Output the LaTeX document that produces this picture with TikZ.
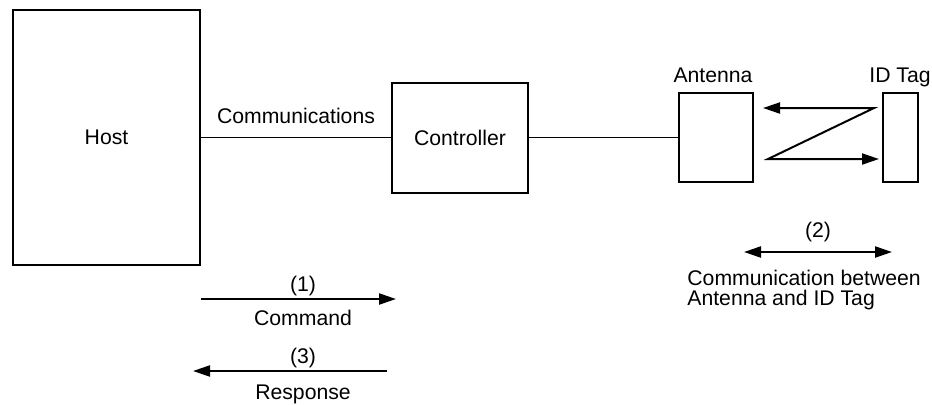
\documentclass[tikz,border=0pt]{standalone}
\usepackage{fontspec}
\setmainfont{Liberation Sans}
\usetikzlibrary{arrows.meta, positioning}

\begin{document}
\begin{tikzpicture}[
    x=0.5pt, y=-0.5pt,
    font=\fontsize{10.6}{9.8}\selectfont,
    box/.style={draw, line width=1pt, inner sep=0pt},
    wire/.style={line width=0.7pt},
    arrow/.style={-{Triangle[length=8.5pt, width=5.5pt]}, line width=1.1pt},
    both/.style={{Triangle[length=8.5pt, width=5.5pt]}-{Triangle[length=8.5pt, width=5.5pt]}, line width=1.1pt},
    txt/.style={anchor=base, inner sep=0pt}
  ]
  \useasboundingbox (0,0) rectangle (932,404);
  \node[box, minimum width=93.5pt, minimum height=127.5pt] (host) at (106.5,137.5) {Host};
  \node[box, minimum width=68pt, minimum height=55pt, right=95pt of host] (ctrl) {Controller};
  \node[box, minimum width=37pt, minimum height=44.5pt, right=74.5pt of ctrl] (ant) {};
  \node[box, minimum width=17.5pt, minimum height=44.5pt, right=64pt of ant] (tag) {};
  \node[txt] (antlbl) at (713,82) {Antenna};
  \node[txt] (taglbl) at (900,82) {ID Tag};
  \draw[wire] (host) -- node[above=3pt] (commlbl) {Communications} (ctrl);
  \draw[wire] (ctrl) -- (ant);
  \coordinate (zz1) at ([xshift=4.5pt, yshift=14.75pt]ant.east);
  \coordinate (zz2) at ([xshift=-4pt, yshift=14.75pt]tag.west);
  \coordinate (zz3) at ([xshift=7pt, yshift=-10.75pt]ant.east);
  \coordinate (zz4) at ([xshift=-1.5pt, yshift=-10.75pt]tag.west);
  \draw[both, line width=1pt] (zz1) -- (zz2) -- (zz3) -- (zz4);
  \coordinate (c1s) at (201,299);
  \coordinate (c1e) at (396,299);
  \draw[arrow] (c1s) -- (c1e);
  \node[txt] (one) at (303,291) {(1)};
  \node[txt] (cmd) at (303,325) {Command};
  \coordinate (r1s) at (387,371);
  \coordinate (r1e) at (193,371);
  \draw[arrow] (r1s) -- (r1e);
  \node[txt] (three) at (303,363) {(3)};
  \node[txt] (resp) at (303,399) {Response};
  \coordinate (a2s) at (744,252);
  \coordinate (a2e) at (892,252);
  \draw[both] (a2s) -- (a2e);
  \node[txt] (two) at (818,237) {(2)};
  \node[txt, anchor=base west, align=left] (between) at (687,305) {Communication between\\Antenna and ID Tag};
\end{tikzpicture}
\end{document}
